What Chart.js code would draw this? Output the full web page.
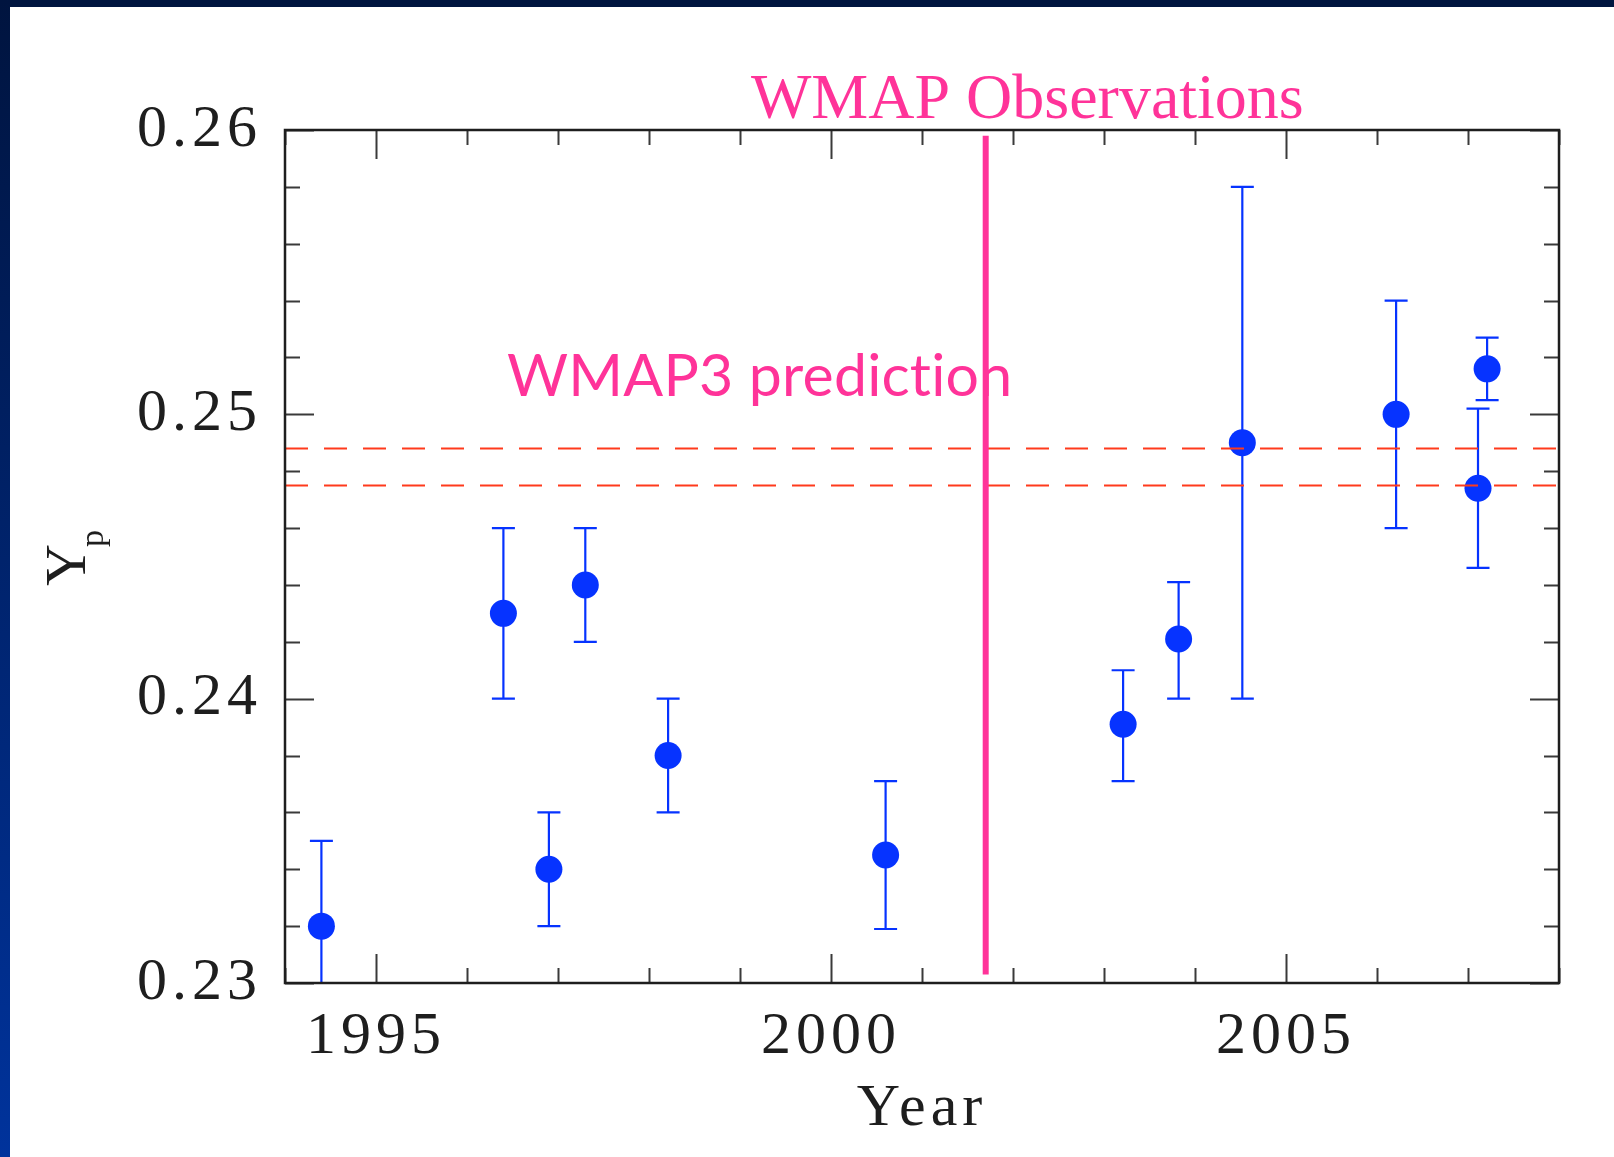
<!DOCTYPE html>
<html>
<head>
<meta charset="utf-8">
<script src="https://cdn.jsdelivr.net/npm/chart.js@4.4.1/dist/chart.umd.min.js"></script>
<style>
html,body{margin:0;padding:0;background:#fff;overflow:hidden;}
#wrap{position:absolute;left:0;top:0;width:1614px;height:1157px;}
</style>
</head>
<body>
<div id="wrap"><canvas id="c"></canvas></div>
<script>
// ---- data ----
const years  = [1994.40, 1996.40, 1996.90, 1997.30, 1998.21, 2000.60, 2003.21, 2003.82, 2004.52, 2006.21, 2007.11, 2007.21];
const yp     = [0.2320, 0.2430, 0.2340, 0.2440, 0.2380, 0.2345, 0.2391, 0.2421, 0.2490, 0.2500, 0.2474, 0.2516];
const ypLow  = [0.2290, 0.2400, 0.2320, 0.2420, 0.2360, 0.2319, 0.2371, 0.2400, 0.2400, 0.2460, 0.2446, 0.2505];
const ypHigh = [0.2350, 0.2460, 0.2360, 0.2460, 0.2400, 0.2371, 0.2410, 0.2441, 0.2580, 0.2540, 0.2502, 0.2527];
const wmap3Band = [0.2488, 0.2475];
const wmapYear = 2001.70;
const wmapSpan = [0.2303, 0.2598];
const xTickValues = [1995, 2000, 2005];
const yTickValues = [0.23, 0.24, 0.25, 0.26];
const xRange = [1994, 2008];
const yRange = [0.23, 0.26];
const xMinorStep = 1;
const yMinorStep = 0.002;

const PINK = '#ff3399';
const BLUE = '#0633ff';
const RED  = '#ff3a1c';
const INK  = '#1e1e1e';
const SERIF = "'Liberation Serif', 'DejaVu Serif', serif";

const decor = {
  id: 'decor',
  beforeUpdate(chart) { chart.ctx.letterSpacing = '5px'; },
  beforeDraw(chart) {
    const ctx = chart.ctx;
    ctx.letterSpacing = '5px';
    ctx.save();
    ctx.fillStyle = '#ffffff';
    ctx.fillRect(0, 0, chart.width, chart.height);
    // slide border
    ctx.fillStyle = '#00153f';
    ctx.fillRect(0, 0, chart.width, 7);
    const g = ctx.createLinearGradient(0, 0, 0, chart.height);
    g.addColorStop(0, '#00143f');
    g.addColorStop(1, '#00339c');
    ctx.fillStyle = g;
    ctx.fillRect(0, 0, 10, chart.height);
    ctx.restore();
  },
  beforeDatasetsDraw(chart) {
    const ctx = chart.ctx, xs = chart.scales.x, ys = chart.scales.y, a = chart.chartArea;
    ctx.save();
    ctx.beginPath();
    ctx.rect(a.left, a.top, a.right - a.left, a.bottom - a.top);
    ctx.clip();
    ctx.strokeStyle = BLUE;
    ctx.lineWidth = 2.2;
    const cap = 11.5;
    years.forEach((yr, i) => {
      const px = xs.getPixelForValue(yr);
      const lo = ys.getPixelForValue(ypLow[i]);
      const hi = ys.getPixelForValue(ypHigh[i]);
      ctx.beginPath();
      ctx.moveTo(px, lo); ctx.lineTo(px, hi);
      if (ypLow[i] >= yRange[0]) { ctx.moveTo(px - cap, lo); ctx.lineTo(px + cap, lo); }
      ctx.moveTo(px - cap, hi); ctx.lineTo(px + cap, hi);
      ctx.stroke();
    });
    ctx.restore();
  },
  afterDraw(chart) {
    const ctx = chart.ctx, xs = chart.scales.x, ys = chart.scales.y, a = chart.chartArea;
    ctx.save();
    ctx.letterSpacing = '0px';
    // ticks (inward)
    ctx.strokeStyle = '#3a3a3a';
    ctx.lineWidth = 2;
    const majLen = 29, minLen = 15;
    ctx.beginPath();
    for (let v = xRange[0]; v <= xRange[1] + 1e-9; v += xMinorStep) {
      const px = Math.round(xs.getPixelForValue(v)) + 0.5;
      const major = xTickValues.some(t => Math.abs(t - v) < 1e-6);
      const L = major ? majLen : minLen;
      ctx.moveTo(px, a.bottom); ctx.lineTo(px, a.bottom - L);
      ctx.moveTo(px, a.top); ctx.lineTo(px, a.top + L);
    }
    for (let k = 0; ; k++) {
      const v = yRange[0] + k * yMinorStep;
      if (v > yRange[1] + 1e-9) break;
      const py = Math.round(ys.getPixelForValue(v)) + 0.5;
      const major = yTickValues.some(t => Math.abs(t - v) < 1e-6);
      const L = major ? majLen : minLen;
      ctx.moveTo(a.left, py); ctx.lineTo(a.left + L, py);
      ctx.moveTo(a.right, py); ctx.lineTo(a.right - L, py);
    }
    ctx.stroke();
    // frame
    ctx.strokeStyle = INK;
    ctx.lineWidth = 2.5;
    ctx.strokeRect(a.left, a.top, a.right - a.left, a.bottom - a.top);

    // annotations
    ctx.fillStyle = PINK;
    ctx.textBaseline = 'alphabetic';
    ctx.textAlign = 'left';
    ctx.font = "64px " + SERIF;
    ctx.fillText('WMAP Observations', xs.getPixelForValue(1999.12), ys.getPixelForValue(0.26042));
    ctx.letterSpacing = '0.2px';
    ctx.font = "59px Lato, 'Open Sans', sans-serif";
    ctx.fillText('WMAP3 prediction', xs.getPixelForValue(1996.44), ys.getPixelForValue(0.25064));
    ctx.letterSpacing = '0px';

    // y-axis title: Y with subscript p
    ctx.fillStyle = INK;
    ctx.translate(85, 586);
    ctx.rotate(-Math.PI / 2);
    ctx.font = "58px " + SERIF;
    ctx.fillText('Y', 0, 0);
    ctx.font = "34px " + SERIF;
    ctx.fillText('p', 39, 18);
    ctx.restore();
  }
};

const chart = new Chart(document.getElementById('c'), {
  type: 'scatter',
  data: {
    datasets: [
      {
        type: 'line', label: 'WMAP observations',
        data: [{x: wmapYear, y: wmapSpan[0]}, {x: wmapYear, y: wmapSpan[1]}],
        borderColor: PINK, borderWidth: 6, pointRadius: 0, order: 0, clip: false
      },
      ...wmap3Band.map(v => ({
        type: 'line', label: 'WMAP3 prediction',
        data: [{x: xRange[0], y: v}, {x: xRange[1], y: v}],
        borderColor: RED, borderWidth: 2, borderDash: [23, 16], pointRadius: 0, order: 1
      })),
      {
        type: 'scatter', label: 'Yp',
        data: years.map((x, i) => ({x: x, y: yp[i]})),
        backgroundColor: BLUE, borderWidth: 0, pointRadius: 13.5, pointHoverRadius: 13.5, order: 2
      }
    ]
  },
  options: {
    responsive: true,
    maintainAspectRatio: false,
    animation: false,
    devicePixelRatio: 1,
    events: [],
    layout: { padding: { left: 0, top: 130, right: 55, bottom: 0 } },
    plugins: { legend: { display: false }, tooltip: { enabled: false } },
    scales: {
      x: {
        type: 'linear', min: xRange[0], max: xRange[1],
        grid: { display: false, drawTicks: false },
        border: { display: false },
        afterBuildTicks: s => { s.ticks = xTickValues.map(v => ({value: v})); },
        afterFit: s => { s.height = 174; },
        ticks: {
          color: INK, padding: 18, maxRotation: 0, autoSkip: false,
          font: { family: SERIF, size: 60 },
          callback: v => String(v)
        },
        title: {
          display: true, text: 'Year', color: INK,
          font: { family: SERIF, size: 60 }, padding: { top: 0, bottom: 12 }
        }
      },
      y: {
        type: 'linear', min: yRange[0], max: yRange[1],
        grid: { display: false, drawTicks: false },
        border: { display: false },
        afterBuildTicks: s => { s.ticks = yTickValues.map(v => ({value: v})); },
        afterFit: s => { s.width = 285; },
        ticks: {
          color: INK, padding: 23, autoSkip: false,
          font: { family: SERIF, size: 60 },
          callback: v => v.toFixed(2)
        }
      }
    }
  },
  plugins: [decor]
});
</script>
</body>
</html>
